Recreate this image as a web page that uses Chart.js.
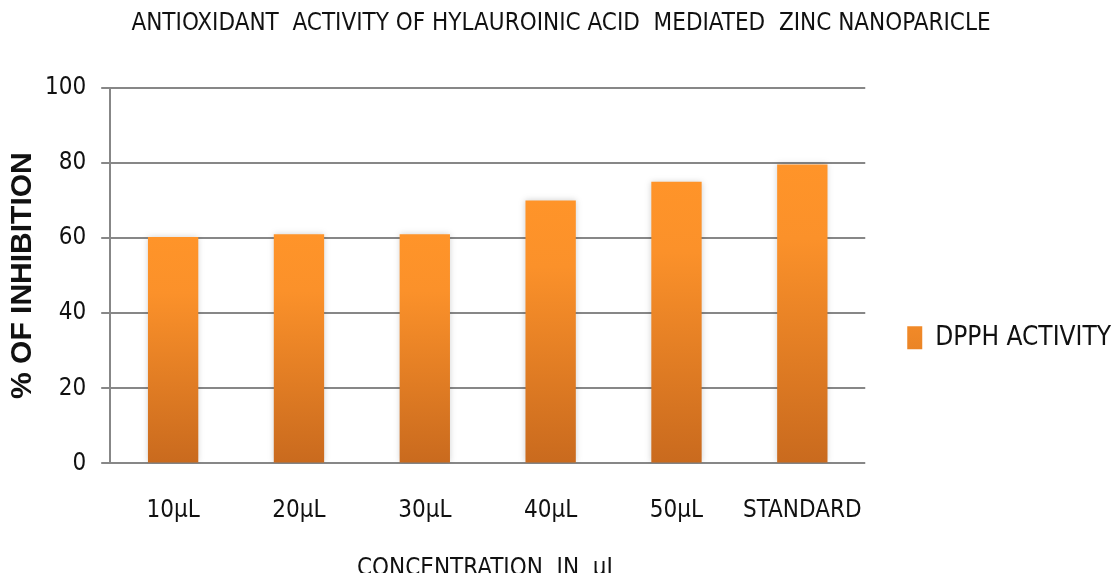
<!DOCTYPE html>
<html>
<head>
<meta charset="utf-8">
<script src="https://cdn.jsdelivr.net/npm/chart.js@4.4.1/dist/chart.umd.min.js"></script>
<style>
  html, body { margin: 0; padding: 0; background: #ffffff; overflow: hidden; }
  #wrap { position: relative; width: 1117px; height: 587px; }
</style>
</head>
<body>
<div id="wrap"><canvas id="c"></canvas></div>
<script>
const chartTitle = 'ANTIOXIDANT  ACTIVITY OF HYLAUROINIC ACID  MEDIATED  ZINC NANOPARICLE';
const categories = ['10µL', '20µL', '30µL', '40µL', '50µL', 'STANDARD'];
const seriesName = 'DPPH ACTIVITY';
const dpphValues = [60.3, 61, 61, 70, 75, 79.6];
const yTicks = [0, 20, 40, 60, 80, 100];
const xTitle = 'CONCENTRATION  IN  µL';
const yTitle = '% OF INHIBITION';

const gridGrey = '#878787';
const condensed = "'DejaVu Sans Condensed', 'Liberation Sans', sans-serif";

const shadowPlugin = {
  id: 'barShadow',
  beforeDatasetsDraw(chart) {
    const ctx = chart.ctx;
    ctx.save();
    ctx.shadowColor = 'rgba(0,0,0,0.18)';
    ctx.shadowBlur = 6;
    ctx.shadowOffsetX = 0;
    ctx.shadowOffsetY = 0;
  },
  afterDatasetsDraw(chart) {
    chart.ctx.restore();
  }
};

new Chart(document.getElementById('c'), {
  type: 'bar',
  data: {
    labels: categories,
    datasets: [{
      label: seriesName,
      data: dpphValues,
      backgroundColor: (c) => {
        const chart = c.chart;
        if (!chart.chartArea || c.type !== 'data') return '#EC8629';
        const y = chart.scales.y;
        const top = y.getPixelForValue(c.raw);
        const bottom = y.getPixelForValue(0);
        const g = chart.ctx.createLinearGradient(0, top, 0, bottom);
        g.addColorStop(0, '#FF9429');
        g.addColorStop(0.25, '#FB912A');
        g.addColorStop(1, '#C96A1E');
        return g;
      },
      borderWidth: 0,
      barPercentage: 0.4,
      categoryPercentage: 1.0
    }]
  },
  options: {
    responsive: true,
    maintainAspectRatio: false,
    animation: false,
    layout: { padding: { left: 1, right: -4, top: 0, bottom: 0 } },
    plugins: {
      title: {
        display: true,
        text: chartTitle,
        color: '#111111',
        font: { family: condensed, size: 24, weight: 'normal', lineHeight: 1.2 },
        padding: { top: 9, bottom: 50 }
      },
      legend: {
        display: true,
        position: 'right',
        fullSize: false,
        title: { display: true, text: '', font: { size: 12 }, padding: { top: 110, bottom: 0 } },
        labels: {
          color: '#111111',
          font: { family: condensed, size: 26 },
          boxWidth: 15,
          boxHeight: 23,
          padding: 42
        }
      },
      tooltip: { enabled: false }
    },
    scales: {
      x: {
        grid: { display: false, drawTicks: false },
        border: { display: false },
        ticks: {
          color: '#111111',
          padding: 33,
          autoSkip: false,
          maxRotation: 0,
          minRotation: 0,
          font: { family: condensed, size: 24 }
        },
        title: {
          display: true,
          text: xTitle,
          color: '#111111',
          font: { family: condensed, size: 24 },
          padding: { top: -4, bottom: 4 }
        }
      },
      y: {
        min: 0,
        max: 100,
        afterBuildTicks: (scale) => { scale.ticks = yTicks.map(v => ({ value: v })); },
        grid: { color: gridGrey, lineWidth: 2, tickLength: 9, drawTicks: true },
        border: { display: true, color: gridGrey, width: 2 },
        ticks: {
          color: '#111111',
          padding: 15,
          font: { family: condensed, size: 24 }
        },
        title: {
          display: true,
          text: yTitle,
          color: '#111111',
          font: { family: "'Liberation Sans', Arial, sans-serif", size: 30, weight: 'bold' },
          padding: { top: 4, bottom: -11 }
        }
      }
    }
  },
  plugins: [shadowPlugin]
});
</script>
</body>
</html>
